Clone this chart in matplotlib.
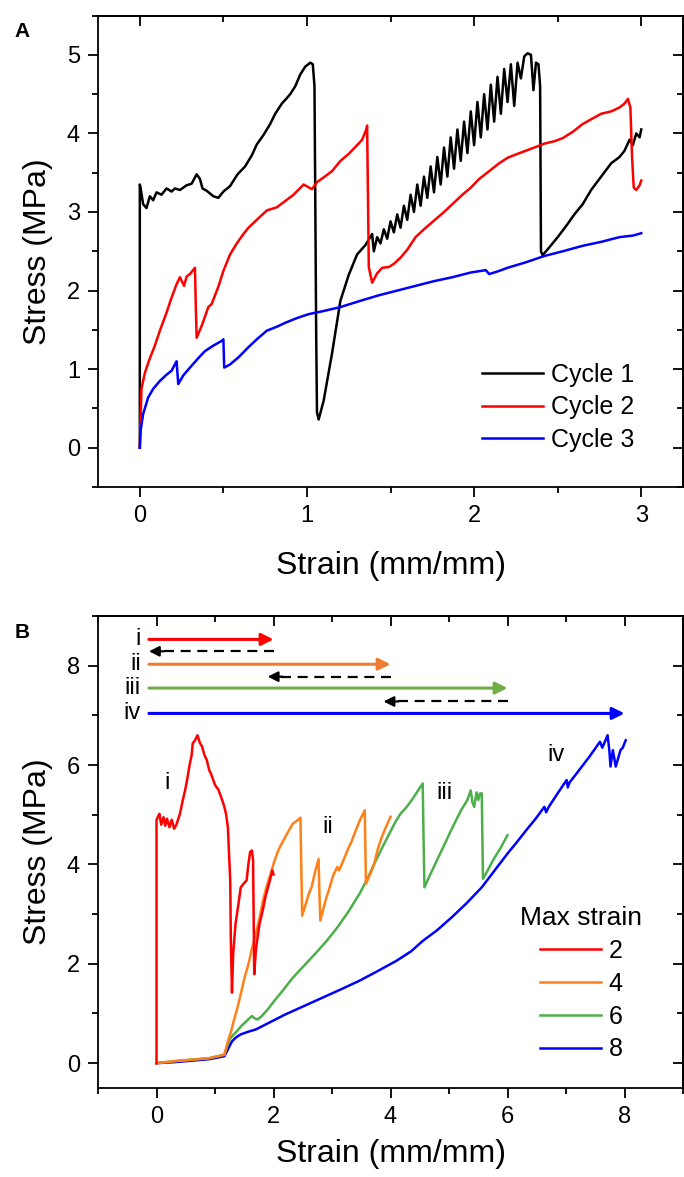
import matplotlib
matplotlib.use("Agg")
import matplotlib.pyplot as plt
from matplotlib.ticker import MultipleLocator

plt.rcParams['font.family'] = ['Liberation Sans', 'DejaVu Sans']

# ---------------- Panel A data ----------------
c1_x = [0.0, 0.0, 0.005, 0.02, 0.04, 0.06, 0.08, 0.10, 0.13, 0.16, 0.19, 0.21, 0.24, 0.28, 0.31, 0.34, 0.36,
        0.375, 0.40, 0.44, 0.47, 0.50, 0.54, 0.585, 0.63, 0.67, 0.70, 0.74, 0.78, 0.81, 0.85, 0.88, 0.90, 0.93,
        0.96, 0.99, 1.02, 1.035, 1.045, 1.05, 1.055, 1.06, 1.07, 1.10, 1.15, 1.20, 1.25, 1.30, 1.35, 1.37, 1.39,
        1.40, 1.42, 1.44, 1.46, 1.48, 1.50, 1.52, 1.54, 1.56, 1.58, 1.60, 1.62, 1.64, 1.66, 1.68, 1.70, 1.72,
        1.74, 1.76, 1.78, 1.80, 1.82, 1.84, 1.86, 1.88, 1.90, 1.92, 1.94, 1.96, 1.98, 2.00, 2.02, 2.04, 2.06,
        2.08, 2.10, 2.12, 2.14, 2.16, 2.18, 2.20, 2.22, 2.24, 2.26, 2.28, 2.30, 2.32, 2.34, 2.355, 2.37, 2.385,
        2.395, 2.40, 2.41, 2.45, 2.50, 2.55, 2.60, 2.65, 2.70, 2.76, 2.82, 2.87, 2.90, 2.93, 2.95, 2.97, 2.99, 3.0]
c1_y = [0.0, 3.35, 3.30, 3.10, 3.05, 3.20, 3.15, 3.25, 3.22, 3.30, 3.26, 3.30, 3.28, 3.34, 3.36, 3.48, 3.42,
        3.30, 3.27, 3.20, 3.18, 3.26, 3.33, 3.48, 3.58, 3.72, 3.86, 3.98, 4.12, 4.25, 4.38, 4.45, 4.50, 4.60,
        4.75, 4.85, 4.90, 4.88, 4.60, 3.10, 1.50, 0.45, 0.36, 0.60, 1.20, 1.87, 2.20, 2.46, 2.58, 2.65, 2.72,
        2.50, 2.68, 2.60, 2.78, 2.66, 2.88, 2.74, 2.97, 2.80, 3.08, 2.90, 3.22, 3.00, 3.35, 3.08, 3.45, 3.18,
        3.58, 3.25, 3.70, 3.35, 3.82, 3.45, 3.95, 3.55, 4.05, 3.65, 4.15, 3.75, 4.28, 3.85, 4.40, 3.95, 4.50,
        4.05, 4.62, 4.15, 4.72, 4.25, 4.82, 4.40, 4.88, 4.35, 4.90, 4.70, 4.98, 5.02, 5.00, 4.55, 4.90, 4.88,
        4.60, 2.50, 2.45, 2.55, 2.68, 2.82, 2.97, 3.10, 3.28, 3.45, 3.62, 3.70, 3.78, 3.92, 3.85, 4.00, 3.95, 4.05]

c2_x = [0.0, 0.01, 0.03, 0.055, 0.09, 0.12, 0.16, 0.19, 0.22, 0.24, 0.265, 0.28, 0.30, 0.33, 0.335, 0.34, 0.37,
        0.41, 0.43, 0.47, 0.50, 0.54, 0.58, 0.62, 0.65, 0.70, 0.76, 0.82, 0.87, 0.92, 0.98, 1.03, 1.06, 1.10,
        1.15, 1.20, 1.25, 1.30, 1.33, 1.355, 1.36, 1.365, 1.37, 1.39, 1.42, 1.45, 1.49, 1.52, 1.56, 1.60, 1.65,
        1.70, 1.76, 1.82, 1.87, 1.93, 1.98, 2.03, 2.09, 2.15, 2.20, 2.26, 2.31, 2.36, 2.42, 2.48, 2.53, 2.59,
        2.65, 2.70, 2.76, 2.82, 2.87, 2.90, 2.92, 2.935, 2.945, 2.955, 2.97, 2.99, 3.0]
c2_y = [0.0, 0.75, 0.95, 1.11, 1.30, 1.49, 1.72, 1.91, 2.08, 2.17, 2.06, 2.18, 2.21, 2.29, 1.80, 1.40, 1.55,
        1.79, 1.83, 2.05, 2.25, 2.46, 2.60, 2.72, 2.80, 2.90, 3.02, 3.06, 3.14, 3.22, 3.35, 3.29, 3.38, 3.44,
        3.52, 3.65, 3.74, 3.85, 3.92, 4.05, 4.10, 3.20, 2.30, 2.10, 2.22, 2.29, 2.30, 2.34, 2.42, 2.52, 2.68,
        2.78, 2.89, 3.00, 3.10, 3.22, 3.31, 3.42, 3.52, 3.62, 3.69, 3.74, 3.78, 3.82, 3.87, 3.90, 3.94, 4.02,
        4.12, 4.18, 4.25, 4.28, 4.33, 4.38, 4.44, 4.33, 3.70, 3.31, 3.28, 3.34, 3.40]

c3_x = [0.0, 0.005, 0.02, 0.05, 0.08, 0.12, 0.16, 0.19, 0.215, 0.22, 0.23, 0.26, 0.30, 0.35, 0.39, 0.44, 0.49,
        0.50, 0.505, 0.54, 0.59, 0.65, 0.70, 0.76, 0.82, 0.87, 0.94, 1.01, 1.10, 1.20, 1.32, 1.43, 1.54, 1.65,
        1.76, 1.87, 1.98, 2.07, 2.09, 2.15, 2.20, 2.31, 2.42, 2.53, 2.65, 2.76, 2.87, 2.95, 3.0]
c3_y = [0.0, 0.22, 0.43, 0.64, 0.75, 0.85, 0.93, 0.98, 1.08, 1.10, 0.81, 0.92, 1.02, 1.14, 1.23, 1.30, 1.36,
        1.38, 1.02, 1.06, 1.15, 1.28, 1.38, 1.49, 1.54, 1.59, 1.65, 1.70, 1.74, 1.79, 1.87, 1.94, 2.00, 2.06,
        2.12, 2.17, 2.23, 2.26, 2.21, 2.25, 2.29, 2.36, 2.44, 2.50, 2.57, 2.62, 2.68, 2.70, 2.73]

cycle_labels = ['Cycle 1', 'Cycle 2', 'Cycle 3']

# ---------------- Panel B data ----------------
m2_x = [0.0, 0.0, 0.02, 0.05, 0.08, 0.12, 0.15, 0.18, 0.22, 0.26, 0.30, 0.34, 0.40, 0.45, 0.49, 0.53, 0.56, 0.60,
        0.62, 0.66, 0.70, 0.74, 0.78, 0.82, 0.86, 0.90, 0.94, 1.00, 1.06, 1.12, 1.16, 1.19, 1.22, 1.24, 1.26,
        1.27, 1.29, 1.31, 1.35, 1.40, 1.44, 1.48, 1.54, 1.57, 1.60, 1.63, 1.65, 1.66, 1.67, 1.70, 1.76, 1.82,
        1.86, 1.92, 1.98, 2.0]
m2_y = [0.0, 4.89, 4.95, 5.02, 4.80, 4.95, 4.78, 4.92, 4.75, 4.90, 4.72, 4.80, 5.02, 5.30, 5.50, 5.75, 5.97,
        6.20, 6.44, 6.50, 6.60, 6.45, 6.37, 6.20, 6.10, 5.90, 5.80, 5.60, 5.50, 5.30, 5.16, 5.00, 4.75, 4.20,
        3.68, 2.50, 1.42, 2.20, 2.80, 3.20, 3.54, 3.60, 3.68, 4.00, 4.25, 4.28, 4.10, 3.00, 1.79, 2.30, 2.80,
        3.10, 3.34, 3.60, 3.88, 3.80]

m4_x = [0.0, 0.3, 0.6, 0.9, 1.16, 1.22, 1.27, 1.32, 1.38, 1.44, 1.50, 1.57, 1.63, 1.70, 1.76, 1.82, 1.88, 1.95,
        2.01, 2.08, 2.14, 2.20, 2.27, 2.33, 2.40, 2.46, 2.475, 2.49, 2.55, 2.60, 2.65, 2.71, 2.77, 2.785, 2.80,
        2.85, 2.90, 2.96, 3.02, 3.09, 3.12, 3.20, 3.27, 3.34, 3.41, 3.48, 3.56, 3.57, 3.58, 3.65, 3.72, 3.78,
        3.85, 3.92, 4.0]
m4_y = [0.0, 0.04, 0.07, 0.10, 0.17, 0.44, 0.62, 0.85, 1.10, 1.39, 1.70, 1.99, 2.30, 2.60, 2.92, 3.27, 3.55,
        3.81, 4.05, 4.28, 4.42, 4.55, 4.70, 4.82, 4.88, 4.94, 3.90, 2.97, 3.20, 3.40, 3.54, 3.85, 4.11, 3.40,
        2.87, 3.10, 3.32, 3.54, 3.78, 3.95, 3.88, 4.10, 4.30, 4.48, 4.70, 4.90, 5.09, 4.30, 3.61, 3.80, 4.01,
        4.30, 4.55, 4.75, 4.96]

m6_x = [0.0, 0.3, 0.6, 0.9, 1.16, 1.20, 1.25, 1.32, 1.38, 1.45, 1.55, 1.63, 1.68, 1.73, 1.80, 1.90, 2.01, 2.15,
        2.33, 2.52, 2.71, 2.90, 3.09, 3.28, 3.47, 3.60, 3.72, 3.85, 3.98, 4.08, 4.17, 4.27, 4.36, 4.45, 4.55,
        4.565, 4.58, 4.66, 4.74, 4.84, 4.93, 5.02, 5.12, 5.21, 5.31, 5.37, 5.40, 5.43, 5.47, 5.50, 5.53, 5.56,
        5.57, 5.58, 5.66, 5.75, 5.88, 6.0]
m6_y = [0.0, 0.04, 0.07, 0.10, 0.17, 0.32, 0.48, 0.58, 0.65, 0.75, 0.86, 0.95, 0.90, 0.88, 0.95, 1.08, 1.25,
        1.45, 1.72, 1.96, 2.20, 2.45, 2.73, 3.05, 3.41, 3.70, 4.01, 4.32, 4.62, 4.85, 5.02, 5.15, 5.29, 5.45,
        5.63, 4.50, 3.54, 3.75, 3.95, 4.20, 4.42, 4.65, 4.89, 5.10, 5.29, 5.49, 5.25, 5.16, 5.45, 5.30, 5.43,
        5.43, 4.50, 3.71, 3.88, 4.08, 4.33, 4.59]

m8_x = [0.0, 0.3, 0.6, 0.9, 1.16, 1.22, 1.29, 1.36, 1.44, 1.56, 1.70, 1.90, 2.20, 2.52, 2.84, 3.16, 3.47, 3.79,
        4.10, 4.35, 4.55, 4.80, 5.05, 5.30, 5.56, 5.78, 6.00, 6.16, 6.32, 6.48, 6.63, 6.66, 6.70, 6.85, 7.01,
        7.03, 7.06, 7.16, 7.27, 7.40, 7.52, 7.58, 7.62, 7.71, 7.74, 7.76, 7.80, 7.85, 7.93, 7.97, 8.02]
m8_y = [0.0, 0.02, 0.05, 0.08, 0.14, 0.28, 0.44, 0.52, 0.58, 0.63, 0.68, 0.80, 0.98, 1.15, 1.32, 1.49, 1.66,
        1.86, 2.06, 2.25, 2.46, 2.68, 2.94, 3.22, 3.54, 3.88, 4.22, 4.45, 4.69, 4.92, 5.16, 5.05, 5.15, 5.42,
        5.70, 5.55, 5.65, 5.80, 5.97, 6.17, 6.37, 6.47, 6.35, 6.60, 6.30, 5.97, 6.30, 5.97, 6.30, 6.35, 6.50]

max_strain_labels = ['2', '4', '6', '8']
roman = ['i', 'ii', 'iii', 'iv']
arrow_y = [8.53, 8.03, 7.55, 7.04]
arrow_end = [2.0, 4.0, 6.0, 8.0]
dash_y = [8.29, 7.78, 7.28]
dash_start = [2.0, 4.0, 6.0]
dash_tip = [-0.13, 1.9, 3.88]
curve_label_x = [0.18, 2.93, 4.93, 6.82]
curve_label_y = [5.64, 4.75, 5.43, 6.20]

# ---------------- Figure ----------------
fig = plt.figure(figsize=(6.84, 11.77), dpi=100)
axA = fig.add_axes([0.1433, 0.5862, 0.8553, 0.4006])
axB = fig.add_axes([0.1433, 0.0756, 0.8553, 0.4010])

TICK = 17
LAB = 23
LW = 1.8

def style(ax):
    for s in ax.spines.values():
        s.set_linewidth(1.3)
    ax.tick_params(axis='both', which='major', direction='out', length=7, width=1.3,
                   labelsize=TICK, pad=6)
    ax.tick_params(axis='both', which='minor', direction='out', length=4, width=1.3)
    top = ax.secondary_xaxis('top')
    top.xaxis.set_major_locator(ax.xaxis.get_major_locator())
    top.xaxis.set_minor_locator(ax.xaxis.get_minor_locator())
    top.tick_params(which='major', direction='in', length=7, width=1.3, labeltop=False)
    top.tick_params(which='minor', direction='in', length=4, width=1.3)
    top.spines['top'].set_linewidth(1.3)
    right = ax.secondary_yaxis('right')
    right.yaxis.set_major_locator(ax.yaxis.get_major_locator())
    right.yaxis.set_minor_locator(ax.yaxis.get_minor_locator())
    right.tick_params(which='major', direction='in', length=7, width=1.3, labelright=False)
    right.tick_params(which='minor', direction='in', length=4, width=1.3)
    right.spines['right'].set_linewidth(1.3)

# Panel A
axA.plot(c1_x, c1_y, color='black', lw=LW, label=cycle_labels[0])
axA.plot(c2_x, c2_y, color='#FF0000', lw=LW, label=cycle_labels[1])
axA.plot(c3_x, c3_y, color='#0000FF', lw=LW, label=cycle_labels[2])
axA.set_xlim(-0.25, 3.25)
axA.set_ylim(-0.5, 5.5)
axA.xaxis.set_major_locator(MultipleLocator(1))
axA.xaxis.set_minor_locator(MultipleLocator(0.5))
axA.yaxis.set_major_locator(MultipleLocator(1))
axA.yaxis.set_minor_locator(MultipleLocator(0.5))
axA.set_xlabel('Strain (mm/mm)', fontsize=LAB, labelpad=17)
axA.set_ylabel('Stress (MPa)', fontsize=LAB, labelpad=10)
style(axA)
axA.legend(loc='upper left', bbox_to_anchor=(0.656, 0.264), frameon=False, fontsize=18,
           handlelength=2.45, handletextpad=0.3, labelspacing=0.35, borderpad=0, borderaxespad=0)
fig.text(0.021, 0.973, 'A', fontsize=15, fontweight='bold', ha='left', va='center')

# Panel B
colsB = ['#FF0000', '#FF8018', '#4DAF4A', '#0000FF']
arrow_cols = ['#FF0000', '#ED7D31', '#70AD47', '#0000FF']
for xs, ys, c, lab in zip([m2_x, m4_x, m6_x, m8_x][::-1], [m2_y, m4_y, m6_y, m8_y][::-1], colsB[::-1],
                          max_strain_labels[::-1]):
    axB.plot(xs, ys, color=c, lw=LW, label=lab)

for yv, xe, c, r in zip(arrow_y, arrow_end, arrow_cols, roman):
    axB.annotate('', xy=(xe, yv), xytext=(-0.13, yv),
                 arrowprops=dict(arrowstyle='-|>', color=c, lw=2.2, mutation_scale=18,
                                 shrinkA=0, shrinkB=0))
    axB.text(-0.27, yv, r, fontsize=TICK, ha='right', va='center')
for yv, xs, xt in zip(dash_y, dash_start, dash_tip):
    axB.plot([xs, xt + 0.15], [yv, yv], color='black', lw=1.6, dashes=(4.5, 3))
    axB.annotate('', xy=(xt, yv), xytext=(xt + 0.25, yv),
                 arrowprops=dict(arrowstyle='-|>', color='black', lw=1.6, mutation_scale=15,
                                 shrinkA=0, shrinkB=0))
for xl, yl, r in zip(curve_label_x, curve_label_y, roman):
    axB.text(xl, yl, r, fontsize=TICK, ha='center', va='center')

axB.set_xlim(-1, 9)
axB.set_ylim(-0.5, 9)
axB.xaxis.set_major_locator(MultipleLocator(2))
axB.xaxis.set_minor_locator(MultipleLocator(1))
axB.yaxis.set_major_locator(MultipleLocator(2))
axB.yaxis.set_minor_locator(MultipleLocator(1))
axB.set_xlabel('Strain (mm/mm)', fontsize=LAB, labelpad=8)
axB.set_ylabel('Stress (MPa)', fontsize=LAB, labelpad=10)
style(axB)
h, l = axB.get_legend_handles_labels()
leg = axB.legend(h[::-1], l[::-1], title='Max strain', loc='upper left', bbox_to_anchor=(0.722, 0.385),
                 frameon=False, fontsize=18, title_fontsize=19, handlelength=2.45, handletextpad=0.3,
                 labelspacing=0.35, borderpad=0, borderaxespad=0)
leg._legend_box.align = 'center'
fig.text(0.021, 0.463, 'B', fontsize=15, fontweight='bold', ha='left', va='center')

fig.savefig('out.png', dpi=100)
